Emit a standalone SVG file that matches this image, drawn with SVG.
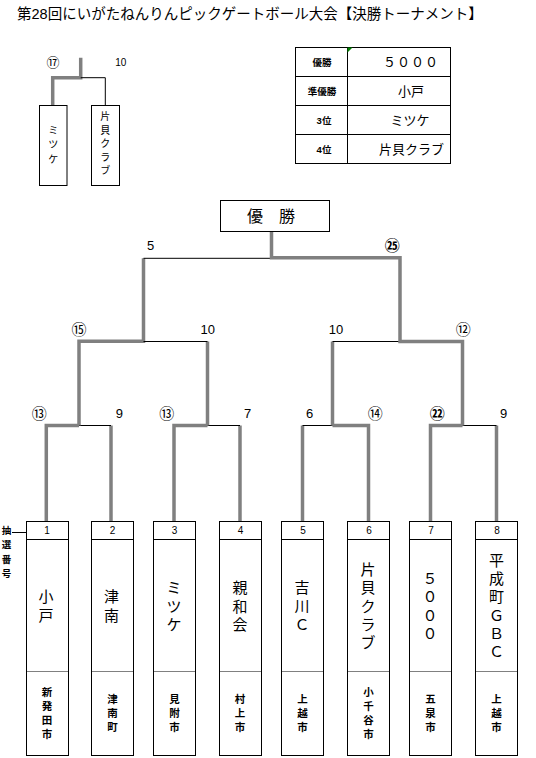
<svg xmlns="http://www.w3.org/2000/svg" width="536" height="758" viewBox="0 0 536 758">
<style>
.t{font-family:"Liberation Sans","Noto Sans CJK JP",sans-serif;fill:#000;dominant-baseline:central}
.m{text-anchor:middle}
.box{fill:#fff;stroke:#000;stroke-width:1}
.thick{stroke:#808080;stroke-width:3.5;fill:none;stroke-linejoin:miter}
.thin{stroke:#000;stroke-width:1;fill:none}
.dot{stroke:#000;stroke-width:1;stroke-dasharray:1 1;fill:none}
.lbl{font-size:13px}
.cir{font-size:15px}
.nm{font-size:15px}
.ct{font-size:10.5px;font-weight:bold}
.no{font-size:10px}
</style>
<rect width="536" height="758" fill="#fff"/>
<text id="title" class="t" x="17" y="13.5" font-size="14.5">第28回にいがたねんりんピックゲートボール大会【決勝トーナメント】</text>

<g id="connectors">
  <path class="thick" d="M80.7,57.7 V77.7 H52.7 V105.3"/>
  <path class="thin" d="M80.7,77.7 H105.3 V105.3"/>
  <path class="thick" d="M46.3,521 V425.5 H79"/>
  <path class="thick" d="M111,521 V425.5"/>
  <path class="thin" d="M79,425.5 H111"/>
  <path class="thick" d="M174,521 V425.5 H207.5"/>
  <path class="thick" d="M240,521 V425.5"/>
  <path class="thin" d="M207.5,425.5 H240"/>
  <path class="thick" d="M79,425.5 V341.2 H143.5 V258.3"/>
  <path class="thick" d="M207.5,425.5 V341.5"/>
  <path class="thin" d="M143.5,341.5 H207.5"/>
  <path class="thin" d="M143.5,258.3 H271.5"/>
  <path class="thick" d="M302.5,521 V425.5"/>
  <path class="thick" d="M368.5,521 V425.5 H332.5"/>
  <path class="thin" d="M302.5,425.5 H332.5"/>
  <path class="thick" d="M430.5,521 V425.5 H462.5"/>
  <path class="thick" d="M496.5,521 V425.5"/>
  <path class="thin" d="M462.5,425.5 H496.5"/>
  <path class="thick" d="M332.5,425.5 V341.5"/>
  <path class="thin" d="M332.5,341.5 H400"/>
  <path class="thick" d="M462.5,425.5 V341.5 H400 V257.8 H271.5 V232"/>
  <path class="thin" d="M12,532.5 H26"/>
</g>

<g id="labels">
  <text class="t m" x="53" y="62.3" font-size="13">⑰</text>
  <text class="t m" x="120.7" y="62" font-size="10">10</text>
  <text class="t m lbl" x="150.7" y="245">5</text>
  <text class="t m cir" x="392.3" y="245" font-weight="bold">㉕</text>
  <text class="t m cir" x="79" y="329">⑮</text>
  <text class="t m lbl" x="207.7" y="329">10</text>
  <text class="t m lbl" x="336" y="329">10</text>
  <text class="t m cir" x="463.3" y="329">⑫</text>
  <text class="t m cir" x="39.3" y="413.7">⑬</text>
  <text class="t m lbl" x="119.3" y="413.7">9</text>
  <text class="t m cir" x="166.7" y="413.7">⑬</text>
  <text class="t m lbl" x="247.7" y="413.7">7</text>
  <text class="t m lbl" x="309.7" y="413.7">6</text>
  <text class="t m cir" x="375.3" y="413.7">⑭</text>
  <text class="t m cir" x="437.3" y="413.7" font-weight="bold">㉒</text>
  <text class="t m lbl" x="503.7" y="413.7">9</text>
  <text class="t m" font-size="9.5" font-weight="bold"><tspan x="6.5" y="529.7">抽</tspan><tspan x="6.5" y="544.3">選</tspan><tspan x="6.5" y="558.5">番</tspan><tspan x="6.5" y="573.3">号</tspan></text>
</g>

<g id="mini-mitsuke">
  <rect class="box" x="39.5" y="105.5" width="27.5" height="80"/>
  <text class="t m" font-size="10"><tspan x="53.3" y="129.8">ミ</tspan><tspan x="53.3" y="144.3">ツ</tspan><tspan x="53.3" y="158.8">ケ</tspan></text>
</g>
<g id="mini-katagai">
  <rect class="box" x="91.5" y="105.5" width="28" height="80"/>
  <text class="t m" font-size="10"><tspan x="105.3" y="116">片</tspan><tspan x="105.3" y="129.5">貝</tspan><tspan x="105.3" y="143">ク</tspan><tspan x="105.3" y="156.5">ラ</tspan><tspan x="105.3" y="170">ブ</tspan></text>
</g>

<g id="results">
  <rect class="box" x="295.5" y="47.5" width="155" height="116"/>
  <path class="thin" d="M347.5,47.5 V163.5 M295.5,76.5 H450.5 M295.5,105.5 H450.5 M295.5,134.5 H450.5"/>
  <polygon points="347.5,47.5 352.5,47.5 347.5,52.5" fill="#008000"/>
  <text class="t m" font-size="9.5" font-weight="bold" x="322" y="62">優勝</text>
  <text class="t m" font-size="9.5" font-weight="bold" x="322" y="91">準優勝</text>
  <text class="t m" font-size="9.5" font-weight="bold" x="324" y="120">3位</text>
  <text class="t m" font-size="9.5" font-weight="bold" x="324" y="149">4位</text>
  <text class="t m" font-size="13" x="411" y="62" letter-spacing="1">５０００</text>
  <text class="t m" font-size="13" x="411" y="91">小戸</text>
  <text class="t m" font-size="13" x="410" y="120">ミツケ</text>
  <text class="t m" font-size="13" x="411.5" y="149">片貝クラブ</text>
</g>

<g id="champion">
  <rect class="box" x="220.5" y="200.5" width="109" height="31"/>
  <text class="t" font-size="16" x="247" y="216.5">優　勝</text>
</g>

<g id="team1">
  <rect class="box" x="26.5" y="521.5" width="42" height="234"/>
  <path class="thin" d="M26.5,539.5 H68.5"/><path class="dot" d="M26.5,671.5 H68.5"/>
  <text class="t m no" x="47" y="530.5">1</text>
  <text class="t m nm"><tspan x="46" y="596.4">小</tspan><tspan x="46" y="614.7">戸</tspan></text>
  <text class="t m ct"><tspan x="47" y="692">新</tspan><tspan x="47" y="706">発</tspan><tspan x="47" y="720">田</tspan><tspan x="47" y="734">市</tspan></text>
</g>
<g id="team2">
  <rect class="box" x="91.5" y="521.5" width="42" height="234"/>
  <path class="thin" d="M91.5,539.5 H133.5"/><path class="dot" d="M91.5,671.5 H133.5"/>
  <text class="t m no" x="112.5" y="530.5">2</text>
  <text class="t m nm"><tspan x="111.5" y="596.4">津</tspan><tspan x="111.5" y="614.7">南</tspan></text>
  <text class="t m ct"><tspan x="112.5" y="699">津</tspan><tspan x="112.5" y="713">南</tspan><tspan x="112.5" y="727">町</tspan></text>
</g>
<g id="team3">
  <rect class="box" x="153.5" y="521.5" width="42" height="234"/>
  <path class="thin" d="M153.5,539.5 H195.5"/><path class="dot" d="M153.5,671.5 H195.5"/>
  <text class="t m no" x="174.5" y="530.5">3</text>
  <text class="t m nm"><tspan x="174" y="587.2">ミ</tspan><tspan x="174" y="605.5">ツ</tspan><tspan x="174" y="623.8">ケ</tspan></text>
  <text class="t m ct"><tspan x="174.5" y="699">見</tspan><tspan x="174.5" y="713">附</tspan><tspan x="174.5" y="727">市</tspan></text>
</g>
<g id="team4">
  <rect class="box" x="219.5" y="521.5" width="42" height="234"/>
  <path class="thin" d="M219.5,539.5 H261.5"/><path class="dot" d="M219.5,671.5 H261.5"/>
  <text class="t m no" x="240.5" y="530.5">4</text>
  <text class="t m nm"><tspan x="240" y="587.2">親</tspan><tspan x="240" y="605.5">和</tspan><tspan x="240" y="623.8">会</tspan></text>
  <text class="t m ct"><tspan x="240" y="699">村</tspan><tspan x="240" y="713">上</tspan><tspan x="240" y="727">市</tspan></text>
</g>
<g id="team5">
  <rect class="box" x="281.5" y="521.5" width="42" height="234"/>
  <path class="thin" d="M281.5,539.5 H323.5"/><path class="dot" d="M281.5,671.5 H323.5"/>
  <text class="t m no" x="303" y="530.5">5</text>
  <text class="t m nm"><tspan x="302" y="587.2">吉</tspan><tspan x="302" y="605.5">川</tspan><tspan x="302" y="623.8">Ｃ</tspan></text>
  <text class="t m ct"><tspan x="302.5" y="699">上</tspan><tspan x="302.5" y="713">越</tspan><tspan x="302.5" y="727">市</tspan></text>
</g>
<g id="team6">
  <rect class="box" x="347.5" y="521.5" width="42" height="234"/>
  <path class="thin" d="M347.5,539.5 H389.5"/><path class="dot" d="M347.5,671.5 H389.5"/>
  <text class="t m no" x="369" y="530.5">6</text>
  <text class="t m nm"><tspan x="368" y="568.9">片</tspan><tspan x="368" y="587.2">貝</tspan><tspan x="368" y="605.5">ク</tspan><tspan x="368" y="623.8">ラ</tspan><tspan x="368" y="642.1">ブ</tspan></text>
  <text class="t m ct"><tspan x="368.5" y="692">小</tspan><tspan x="368.5" y="706">千</tspan><tspan x="368.5" y="720">谷</tspan><tspan x="368.5" y="734">市</tspan></text>
</g>
<g id="team7">
  <rect class="box" x="409.5" y="521.5" width="42" height="234"/>
  <path class="thin" d="M409.5,539.5 H451.5"/><path class="dot" d="M409.5,671.5 H451.5"/>
  <text class="t m no" x="431" y="530.5">7</text>
  <text class="t m nm"><tspan x="430" y="578">５</tspan><tspan x="430" y="596.3">０</tspan><tspan x="430" y="614.6">０</tspan><tspan x="430" y="633">０</tspan></text>
  <text class="t m ct"><tspan x="430.5" y="699">五</tspan><tspan x="430.5" y="713">泉</tspan><tspan x="430.5" y="727">市</tspan></text>
</g>
<g id="team8">
  <rect class="box" x="475.5" y="521.5" width="42" height="234"/>
  <path class="thin" d="M475.5,539.5 H517.5"/><path class="dot" d="M475.5,671.5 H517.5"/>
  <text class="t m no" x="497" y="530.5">8</text>
  <text class="t m nm"><tspan x="496.5" y="559.8">平</tspan><tspan x="496.5" y="578">成</tspan><tspan x="496.5" y="596.4">町</tspan><tspan x="496.5" y="614.6">Ｇ</tspan><tspan x="496.5" y="632.9">Ｂ</tspan><tspan x="496.5" y="651.2">Ｃ</tspan></text>
  <text class="t m ct"><tspan x="496.5" y="699">上</tspan><tspan x="496.5" y="713">越</tspan><tspan x="496.5" y="727">市</tspan></text>
</g>
</svg>
